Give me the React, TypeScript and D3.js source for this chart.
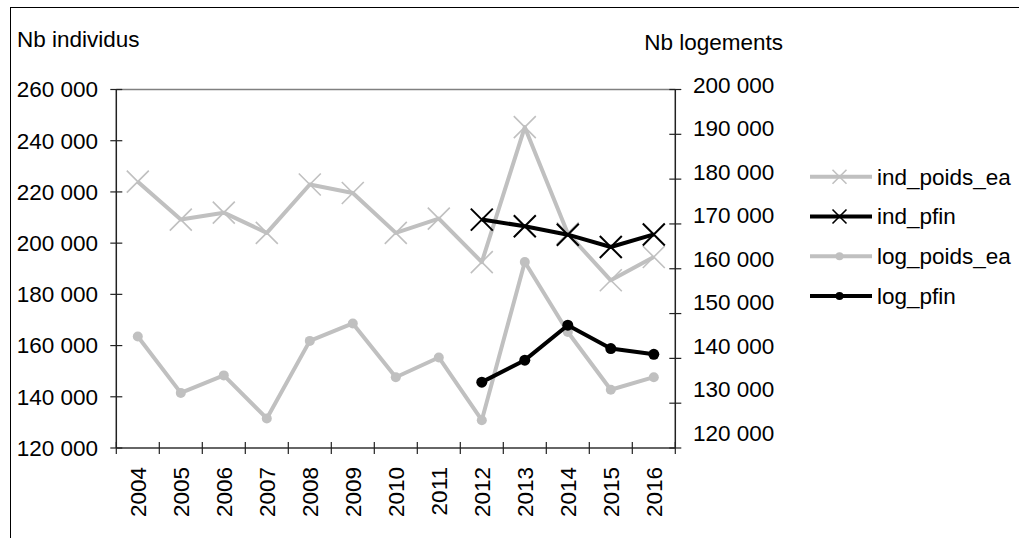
import React from "react";
import * as d3 from "d3";

const years = ["2004","2005","2006","2007","2008","2009","2010","2011","2012","2013","2014","2015","2016"];
const indPoidsEa: (number|null)[] = [224000,209200,211900,204000,222900,219600,204000,209600,192600,245300,203800,185500,194600];
const indPfin: (number|null)[] = [null,null,null,null,null,null,null,null,209200,206600,203300,198500,203400];
const logPoidsEa: (number|null)[] = [144900,132300,136200,126600,143900,147800,135800,140200,126200,161500,145900,133000,135800];
const logPfin: (number|null)[] = [null,null,null,null,null,null,null,null,134700,139600,147400,142200,140900];
const leftTicks = [120000,140000,160000,180000,200000,220000,240000,260000];
const rightTicks = [120000,130000,140000,150000,160000,170000,180000,190000,200000];

const GRAY = "#c0c0c0";
const FONT = "'Liberation Sans', Arial, sans-serif";
const FS = 22.5;

const fmt = (v: number) => d3.format(",")(v).replace(/,/g, " ");

export default function App() {
  const x0 = 116.3, x1 = 675.3, yTop = 89.5, yBot = 448;
  const x = d3.scaleBand<string>().domain(years).range([x0, x1]).padding(0);
  const yL = d3.scaleLinear().domain([120000, 260000]).range([yBot, yTop]);
  const yR = d3.scaleLinear().domain([120000, 200000]).range([yBot, yTop]);
  const yRLabel = d3.scaleLinear().domain([120000, 200000]).range([433, 85]);
  const cx = (i: number) => (x(years[i]) as number) + x.bandwidth() / 2;

  const lineL = d3.line<number|null>().defined(d => d != null).x((_, i) => cx(i)).y(d => yL(d as number));
  const lineR = d3.line<number|null>().defined(d => d != null).x((_, i) => cx(i)).y(d => yR(d as number));

  const xMark = (px: number, py: number, s: number, color: string, sw: number, key: any) => (
    <path key={key} d={`M${px - s},${py - s}L${px + s},${py + s}M${px - s},${py + s}L${px + s},${py - s}`} stroke={color} strokeWidth={sw} fill="none" />
  );

  const legend = [
    { name: "ind_poids_ea", color: GRAY, mark: "x" },
    { name: "ind_pfin", color: "#000", mark: "x" },
    { name: "log_poids_ea", color: GRAY, mark: "o" },
    { name: "log_pfin", color: "#000", mark: "o" },
  ];
  const legendY = d3.scalePoint<string>().domain(legend.map(l => l.name)).range([176.7, 296]);

  return (
    <svg width={1019} height={538} style={{ position: "absolute", left: 0, top: 0, fontFamily: FONT }}>
      <rect x={10.5} y={7.5} width={1030} height={560} fill="white" stroke="#000" strokeWidth={1} />
      {/* plot frame */}
      <line x1={x0} x2={x1} y1={yTop} y2={yTop} stroke="#808080" strokeWidth={1.5} />
      <line x1={x0} x2={x0} y1={yTop} y2={yBot} stroke="#222" strokeWidth={1.5} />
      <line x1={x1} x2={x1} y1={yTop} y2={yBot} stroke="#222" strokeWidth={1.5} />
      <line x1={x0} x2={x1} y1={yBot} y2={yBot} stroke="#333" strokeWidth={1.5} />
      {/* left ticks */}
      {leftTicks.map(t => (
        <g key={"l" + t}>
          <line x1={x0 - 6} x2={x0 + 6} y1={yL(t)} y2={yL(t)} stroke="#222" strokeWidth={1.2} />
          <text x={98} y={yL(t)} dy="0.35em" textAnchor="end" fontSize={FS} fill="#000">{fmt(t)}</text>
        </g>
      ))}
      {/* right ticks */}
      {rightTicks.map(t => (
        <g key={"r" + t}>
          <line x1={x1 - 6} x2={x1 + 6} y1={yR(t)} y2={yR(t)} stroke="#222" strokeWidth={1.2} />
          <text x={693} y={yRLabel(t)} dy="0.35em" textAnchor="start" fontSize={FS} fill="#000">{fmt(t)}</text>
        </g>
      ))}
      {/* x ticks */}
      {d3.range(years.length + 1).map(i => {
        const px = x0 + i * x.step();
        return <line key={"xt" + i} x1={px} x2={px} y1={yBot - 6} y2={yBot + 6} stroke="#222" strokeWidth={1.2} />;
      })}
      {years.map((yr, i) => (
        <text key={yr} transform={`translate(${cx(i)},467) rotate(-90)`} dy="0.35em" textAnchor="end" fontSize={FS} fill="#000">{yr}</text>
      ))}
      {/* axis titles */}
      <text x={17} y={47} fontSize={FS} fill="#000">Nb individus</text>
      <text x={783} y={50} textAnchor="end" fontSize={FS} fill="#000">Nb logements</text>
      {/* gray series */}
      <path d={lineL(indPoidsEa) || ""} stroke={GRAY} strokeWidth={4} fill="none" strokeLinejoin="round" />
      {indPoidsEa.map((v, i) => v == null ? null : xMark(cx(i), yL(v), 11, GRAY, 1.6, "ipe" + i))}
      <path d={lineR(logPoidsEa) || ""} stroke={GRAY} strokeWidth={4} fill="none" strokeLinejoin="round" />
      {logPoidsEa.map((v, i) => v == null ? null : <circle key={"lpe" + i} cx={cx(i)} cy={yR(v)} r={5} fill={GRAY} />)}
      {/* black series */}
      <path d={lineL(indPfin) || ""} stroke="#000" strokeWidth={4} fill="none" strokeLinejoin="round" />
      {indPfin.map((v, i) => v == null ? null : xMark(cx(i), yL(v), 11, "#000", 2, "ip" + i))}
      <path d={lineR(logPfin) || ""} stroke="#000" strokeWidth={4} fill="none" strokeLinejoin="round" />
      {logPfin.map((v, i) => v == null ? null : <circle key={"lp" + i} cx={cx(i)} cy={yR(v)} r={5.5} fill="#000" />)}
      {/* legend */}
      {legend.map(l => {
        const ly = legendY(l.name) as number;
        return (
          <g key={l.name}>
            <line x1={810} x2={872} y1={ly} y2={ly} stroke={l.color} strokeWidth={4} />
            {l.mark === "x" ? xMark(839.5, ly, 7, l.color, 1.6, "lm" + l.name) : <circle cx={839.5} cy={ly} r={4} fill={l.color} />}
            <text x={877} y={ly} dy="0.35em" fontSize={FS} fill="#000">{l.name}</text>
          </g>
        );
      })}
    </svg>
  );
}
